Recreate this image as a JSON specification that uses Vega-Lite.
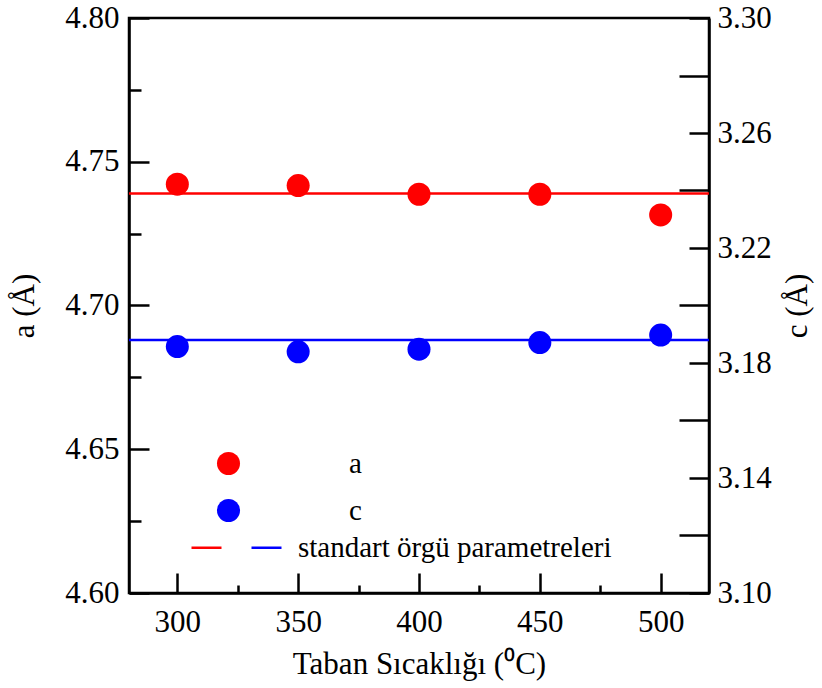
{
  "$schema": "https://vega.github.io/schema/vega-lite/v6.json",
  "width": 580,
  "height": 575,
  "autosize": {"type": "none"},
  "padding": {"left": 129, "top": 18, "right": 113, "bottom": 95},
  "background": "white",
  "config": {
    "font": "Liberation Serif",
    "view": {"stroke": "black", "strokeWidth": 2.5},
    "axis": {
      "grid": false,
      "domainColor": "black",
      "domainWidth": 2.5,
      "tickColor": "black",
      "tickWidth": 2.5,
      "labelFont": "Liberation Serif",
      "labelFontSize": 31,
      "labelColor": "black",
      "titleFont": "Liberation Serif",
      "titleFontSize": 31,
      "titleFontWeight": "normal",
      "titleColor": "black"
    },
    "legend": {
      "labelFont": "Liberation Serif",
      "labelFontSize": 29,
      "labelColor": "black",
      "labelLimit": 0,
      "padding": 0
    }
  },
  "datasets": {
    "meas": [
      {"T": 300, "param": "a", "value": 4.7422},
      {"T": 350, "param": "a", "value": 4.7417},
      {"T": 400, "param": "a", "value": 4.7387},
      {"T": 450, "param": "a", "value": 4.7387},
      {"T": 500, "param": "a", "value": 4.7315},
      {"T": 300, "param": "c", "value": 3.1857},
      {"T": 350, "param": "c", "value": 3.1839},
      {"T": 400, "param": "c", "value": 3.1848},
      {"T": 450, "param": "c", "value": 3.1871},
      {"T": 500, "param": "c", "value": 3.1897}
    ],
    "std": [
      {"line": "std_a", "value": 4.739},
      {"line": "std_c", "value": 3.188}
    ]
  },
  "layer": [
    {
      "layer": [
        {
          "data": {"name": "std"},
          "transform": [{"filter": "datum.line === 'std_a'"}],
          "mark": {"type": "rule", "strokeWidth": 2.5},
          "encoding": {
            "y": {"field": "value", "type": "quantitative"},
            "stroke": {
              "field": "line", "type": "nominal",
              "scale": {"domain": ["std_a", "std_c"], "range": ["#ff0000", "#0000ff"]},
              "legend": {
                "title": null, "orient": "none", "direction": "horizontal",
                "legendX": 61, "legendY": 513,
                "symbolType": "stroke", "symbolSize": 900, "symbolStrokeWidth": 2.5,
                "labelOffset": 15, "columnPadding": 8, "labelLimit": 0,
                "labelExpr": "datum.label === 'std_c' ? 'standart örgü parametreleri' : ''"
              }
            }
          }
        },
        {
          "data": {"name": "meas"},
          "transform": [{"filter": "datum.param === 'a'"}],
          "mark": {"type": "point", "filled": true, "shape": "circle", "size": 530, "opacity": 1},
          "encoding": {
            "x": {
              "field": "T", "type": "quantitative",
              "scale": {"domain": [280, 520], "nice": false},
              "axis": {
                "title": "Taban Sıcaklığı (⁰C)",
                "values": [300, 325, 350, 375, 400, 425, 450, 475, 500],
                "labelExpr": "datum.value % 50 === 0 ? datum.label : ''",
                "tickSize": {"condition": {"test": "datum.value % 50 === 0", "value": -20}, "value": -8},
                "labelPadding": 34,
                "titlePadding": 12
              }
            },
            "y": {
              "field": "value", "type": "quantitative",
              "scale": {"domain": [4.6, 4.8], "nice": false, "zero": false},
              "axis": {
                "orient": "left",
                "title": "a (Å)",
                "format": ".2f",
                "values": [4.6, 4.625, 4.65, 4.675, 4.7, 4.725, 4.75, 4.775, 4.8],
                "labelExpr": "round(datum.value * 1000) % 50 === 0 ? datum.label : ''",
                "tickSize": {"condition": {"test": "round(datum.value * 1000) % 50 === 0", "value": -20}, "value": -12},
                "labelPadding": 30,
                "titlePadding": 24
              }
            },
            "fill": {
              "field": "param", "type": "nominal",
              "scale": {"domain": ["a", "c"], "range": ["#ff0000", "#0000ff"]},
              "legend": {
                "title": null, "orient": "none",
                "legendX": 85, "legendY": 431,
                "symbolType": "circle", "symbolSize": 530, "symbolStrokeWidth": 0,
                "labelOffset": 106, "rowPadding": 17
              }
            }
          }
        }
      ]
    },
    {
      "layer": [
        {
          "data": {"name": "std"},
          "transform": [{"filter": "datum.line === 'std_c'"}],
          "mark": {"type": "rule", "strokeWidth": 2.5},
          "encoding": {
            "y": {"field": "value", "type": "quantitative"},
            "stroke": {
              "field": "line", "type": "nominal",
              "scale": {"domain": ["std_a", "std_c"], "range": ["#ff0000", "#0000ff"]}
            }
          }
        },
        {
          "data": {"name": "meas"},
          "transform": [{"filter": "datum.param === 'c'"}],
          "mark": {"type": "point", "filled": true, "shape": "circle", "size": 530, "opacity": 1},
          "encoding": {
            "x": {
              "field": "T", "type": "quantitative",
              "scale": {"domain": [280, 520], "nice": false}
            },
            "y": {
              "field": "value", "type": "quantitative",
              "scale": {"domain": [3.1, 3.3], "nice": false, "zero": false},
              "axis": {
                "orient": "right",
                "title": "c (Å)",
                "titleAngle": 270,
                "format": ".2f",
                "values": [3.1, 3.12, 3.14, 3.16, 3.18, 3.2, 3.22, 3.24, 3.26, 3.28, 3.3],
                "labelExpr": "round(datum.value * 100) % 4 === 2 ? datum.label : ''",
                "tickSize": {"condition": {"test": "round(datum.value * 100) % 4 === 2", "value": -20}, "value": -30},
                "labelPadding": 28,
                "titlePadding": 42
              }
            },
            "fill": {
              "field": "param", "type": "nominal",
              "scale": {"domain": ["a", "c"], "range": ["#ff0000", "#0000ff"]}
            }
          }
        }
      ]
    }
  ],
  "resolve": {"scale": {"y": "independent"}, "axis": {"y": "independent"}}
}
